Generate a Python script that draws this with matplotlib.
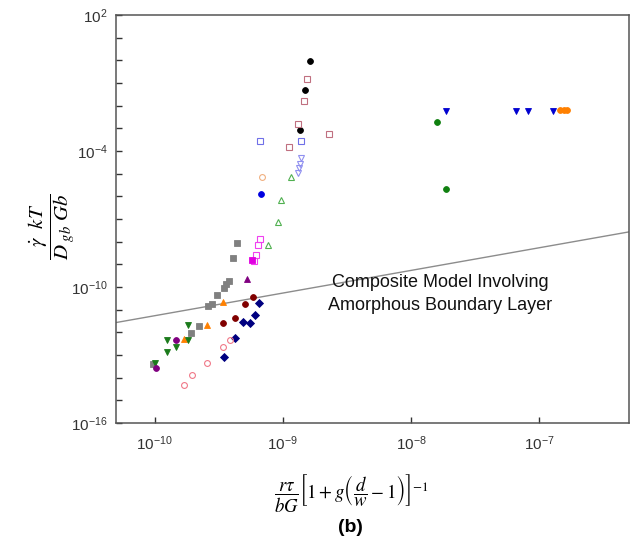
import math

import matplotlib
matplotlib.use("Agg")
import matplotlib.pyplot as plt
from matplotlib.ticker import FixedLocator, FuncFormatter, NullLocator

plt.rcParams.update(
    {
        "font.family": ["Liberation Sans", "DejaVu Sans"],
        "mathtext.fontset": "stix",
        "axes.linewidth": 1.1,
        "axes.unicode_minus": False,
    }
)

# data (x, y pairs per series)
black_x = [1.63e-9, 1.49e-9, 1.35e-9]
black_y = [0.91, 0.051, 8.7e-4]

rosy_sq_x = [1.55e-9, 1.46e-9, 1.32e-9, 2.29e-9, 1.12e-9]
rosy_sq_y = [0.155, 0.016, 1.55e-3, 5.6e-4, 1.55e-4]

lblue_sq_x = [6.6e-10, 1.39e-9]
lblue_sq_y = [2.8e-4, 2.8e-4]

lav_tri_x = [1.39e-9, 1.37e-9, 1.34e-9, 1.32e-9]
lav_tri_y = [4.9e-5, 2.8e-5, 1.7e-5, 1.1e-5]

peach_circ_x = [6.9e-10]
peach_circ_y = [7.1e-6]

blue_circ_x = [6.8e-10]
blue_circ_y = [1.3e-6]

green_tri_x = [1.15e-9, 9.6e-10, 9.1e-10, 7.7e-10]
green_tri_y = [7.1e-6, 6.9e-7, 7.1e-8, 6.8e-9]

mag_sq_x = [6.6e-10, 6.45e-10, 6.2e-10, 6.0e-10]
mag_sq_y = [1.3e-8, 6.9e-9, 2.7e-9, 1.4e-9]

mag_fill_x = [5.7e-10]
mag_fill_y = [1.5e-9]

gray_sq_x = [4.4e-10, 4.1e-10, 3.8e-10, 3.6e-10, 3.5e-10, 3.05e-10, 2.8e-10, 2.6e-10, 2.2e-10, 1.93e-10, 9.7e-11]
gray_sq_y = [9.1e-9, 1.9e-9, 1.85e-10, 1.3e-10, 9.3e-11, 4.6e-11, 1.8e-11, 1.4e-11, 2.0e-12, 9.3e-13, 4.1e-14]

purple_tri_x = [5.3e-10]
purple_tri_y = [2.2e-10]

dred_circ_x = [5.9e-10, 5.1e-10, 4.2e-10, 3.4e-10]
dred_circ_y = [3.7e-11, 1.7e-11, 4.3e-12, 2.6e-12]

navy_dia_x = [6.55e-10, 6.1e-10, 5.5e-10, 4.9e-10, 4.2e-10, 3.5e-10]
navy_dia_y = [1.9e-11, 5.6e-12, 2.5e-12, 2.9e-12, 5.9e-13, 7.9e-14]

orange_tri_x = [3.4e-10, 2.55e-10, 1.71e-10]
orange_tri_y = [2.1e-11, 2.2e-12, 5.1e-13]

dgreen_tri_x = [1.83e-10, 1.26e-10, 1.83e-10, 1.46e-10, 1.24e-10, 1.01e-10]
dgreen_tri_y = [2.2e-12, 4.4e-13, 4.4e-13, 2.3e-13, 1.35e-13, 4.6e-14]

purple_circ_x = [1.48e-10, 1.03e-10]
purple_circ_y = [4.4e-13, 2.7e-14]

pink_circ_x = [3.9e-10, 3.4e-10, 2.55e-10, 1.96e-10, 1.70e-10]
pink_circ_y = [4.4e-13, 2.2e-13, 4.4e-14, 1.3e-14, 4.6e-15]

blue_tri_x = [1.87e-8, 6.6e-8, 8.1e-8, 1.28e-7]
blue_tri_y = [6.0e-3, 6.0e-3, 6.0e-3, 6.0e-3]

orange_circ_x = [1.44e-7, 1.56e-7, 1.65e-7]
orange_circ_y = [6.2e-3, 6.2e-3, 6.2e-3]

green_circ_x = [1.58e-8, 1.87e-8]
green_circ_y = [1.9e-3, 2.2e-6]

# composite model line (slope 1 in log-log)
model_x = [5e-11, 5e-7]
model_y = [2.7e-12, 2.7e-8]

xticks = [1e-10, 1e-9, 1e-8, 1e-7]
yticks = [10.0 ** e for e in range(-16, 3)]
ylabeled = [-16, -10, -4, 2]

fig = plt.figure(figsize=(6.42, 5.45), dpi=100)
ax = fig.add_axes([116 / 642, 1 - 423 / 545, (629 - 116) / 642, (423 - 15) / 545])
ax.set_xscale("log")
ax.set_yscale("log")
ax.set_xlim(5e-11, 5e-7)
ax.set_ylim(1e-16, 1e2)

ax.plot(model_x, model_y, color="#8c8c8c", linewidth=1.0, zorder=1)

ms = 4.2


def filled(x, y, marker, color, size=ms):
    ax.plot(x, y, linestyle="none", marker=marker, color=color, markersize=size,
            markeredgewidth=0.6, zorder=3)


def hollow(x, y, marker, color, size=ms):
    ax.plot(x, y, linestyle="none", marker=marker, markerfacecolor="none",
            markeredgecolor=color, markersize=size, markeredgewidth=0.8, zorder=3)


filled(black_x, black_y, "o", "black")
hollow(rosy_sq_x, rosy_sq_y, "s", "#c07080")
hollow(lblue_sq_x, lblue_sq_y, "s", "#7070e8")
hollow(lav_tri_x, lav_tri_y, "v", "#9090f0")
hollow(peach_circ_x, peach_circ_y, "o", "#f0b080")
filled(blue_circ_x, blue_circ_y, "o", "#0000e0")
hollow(green_tri_x, green_tri_y, "^", "#50b050", 5)
hollow(mag_sq_x, mag_sq_y, "s", "#f040f0")
filled(mag_fill_x, mag_fill_y, "s", "#e000e0")
filled(gray_sq_x, gray_sq_y, "s", "#808080")
filled(purple_tri_x, purple_tri_y, "^", "#800080")
filled(dred_circ_x, dred_circ_y, "o", "#800000")
filled(navy_dia_x, navy_dia_y, "D", "#000080", 3.8)
filled(orange_tri_x, orange_tri_y, "^", "#ff8000")
filled(dgreen_tri_x, dgreen_tri_y, "v", "#1a7a1a", 4.6)
filled(purple_circ_x, purple_circ_y, "o", "#800080")
hollow(pink_circ_x, pink_circ_y, "o", "#f07888")
filled(blue_tri_x, blue_tri_y, "v", "#0000d0")
filled(orange_circ_x, orange_circ_y, "o", "#ff8000")
filled(green_circ_x, green_circ_y, "o", "#108010")


def xfmt(v, pos):
    return r"$\mathregular{10^{%d}}$" % round(math.log10(v))


def yfmt(v, pos):
    e = round(math.log10(v))
    if e in ylabeled:
        return r"$\mathregular{10^{%d}}$" % e
    return ""


ax.xaxis.set_major_locator(FixedLocator(xticks))
ax.xaxis.set_minor_locator(NullLocator())
ax.xaxis.set_major_formatter(FuncFormatter(xfmt))
ax.yaxis.set_major_locator(FixedLocator(yticks))
ax.yaxis.set_minor_locator(NullLocator())
ax.yaxis.set_major_formatter(FuncFormatter(yfmt))
ax.tick_params(direction="in", length=4.5, width=1.0, labelsize=11,
               colors="#333333", pad=6)
ax.tick_params(axis="x", pad=8)
for s in ax.spines.values():
    s.set_color("#555555")

ax.text(0.632, 0.317, "Composite Model Involving\nAmorphous Boundary Layer",
        transform=ax.transAxes, ha="center", va="center", fontsize=13,
        linespacing=1.45, color="#111111")

fig.text(52 / 642, 1 - 227 / 545, r"$\dfrac{\dot{\gamma}\ \ kT}{D_{\ gb}\ Gb}$",
         rotation=90, ha="center", va="center", fontsize=15)
fig.text(352 / 642, 1 - 493 / 545,
         r"$\dfrac{r\tau}{bG}\left[1+g\left(\dfrac{d}{w}-1\right)\right]^{-1}$",
         ha="center", va="center", fontsize=13.5)
fig.text(350 / 642, 1 - 527 / 545, "(b)", ha="center", va="center",
         fontsize=14, fontweight="bold")

fig.savefig("out.png", dpi=100)
